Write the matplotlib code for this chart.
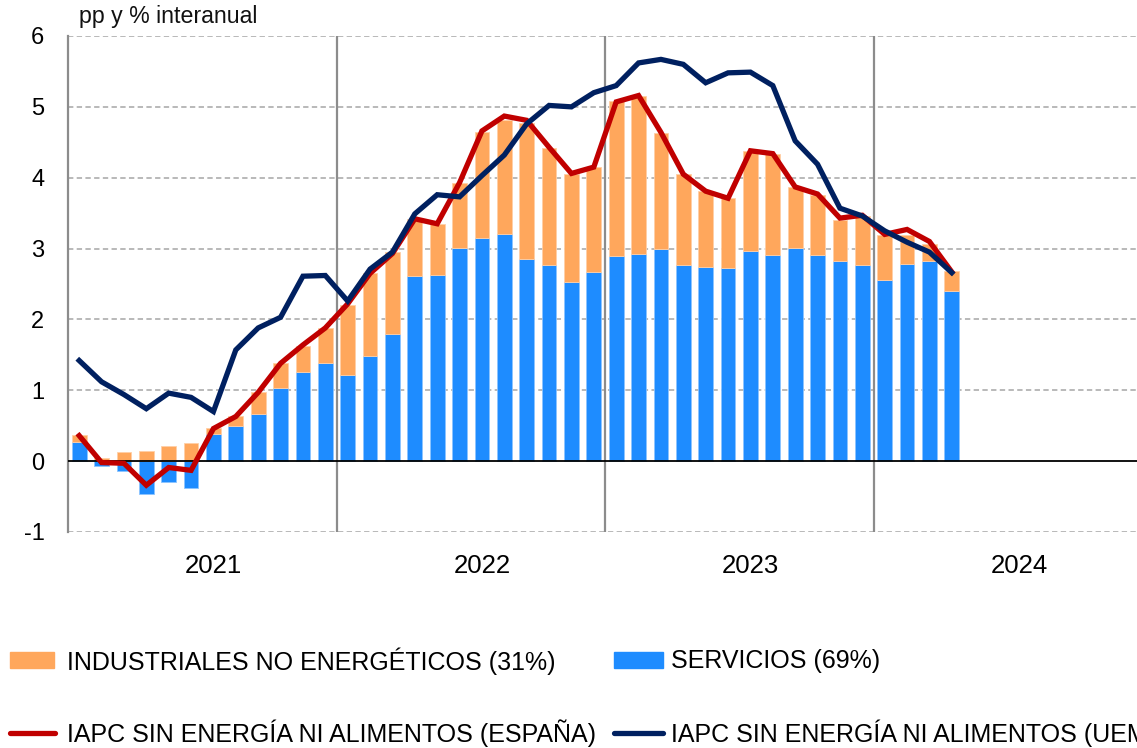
import matplotlib
matplotlib.use('Agg')
import matplotlib.pyplot as plt
from matplotlib.patches import Rectangle
from matplotlib.lines import Line2D
import numpy as np

plt.rcParams['font.family'] = ['Liberation Sans', 'DejaVu Sans']

# ---------------- data ----------------
years = ['2021', '2022', '2023', '2024']
months_per_year = 12
y_ticks = [-1, 0, 1, 2, 3, 4, 5, 6]
y_label = 'pp y % interanual'

# contribution of services (pp), Jan 2021 - Apr 2024
services = [0.27, -0.07, -0.14, -0.46, -0.30, -0.38, 0.39, 0.50, 0.67, 1.03, 1.26, 1.39,
            1.22, 1.49, 1.79, 2.61, 2.63, 3.01, 3.15, 3.20, 2.85, 2.77, 2.53, 2.67,
            2.89, 2.93, 3.00, 2.77, 2.74, 2.72, 2.97, 2.91, 3.01, 2.91, 2.82, 2.77,
            2.56, 2.78, 2.83, 2.40]
# contribution of non-energy industrial goods (pp)
industrial = [0.10, 0.05, 0.13, 0.14, 0.21, 0.25, 0.08, 0.14, 0.31, 0.35, 0.37, 0.49,
              0.99, 1.17, 1.16, 0.81, 0.72, 0.91, 1.50, 1.61, 1.92, 1.65, 1.52, 1.48,
              2.19, 2.23, 1.63, 1.28, 1.07, 0.99, 1.41, 1.43, 0.86, 0.85, 0.58, 0.69,
              0.63, 0.41, 0.24, 0.28]
# HICP excl. energy and food, Spain (%)
spain = [0.36, -0.02, -0.03, -0.34, -0.09, -0.13, 0.46, 0.63, 0.97, 1.38, 1.64, 1.88,
         2.22, 2.65, 2.93, 3.42, 3.35, 3.93, 4.66, 4.87, 4.81, 4.43, 4.06, 4.15,
         5.07, 5.16, 4.64, 4.05, 3.81, 3.71, 4.38, 4.34, 3.87, 3.77, 3.43, 3.47,
         3.20, 3.27, 3.10, 2.67]
# HICP excl. energy and food, euro area (%)
emu = [1.42, 1.12, 0.94, 0.74, 0.96, 0.90, 0.70, 1.57, 1.88, 2.03, 2.61, 2.62,
       2.26, 2.71, 2.95, 3.49, 3.76, 3.73, 4.03, 4.32, 4.76, 5.02, 5.00, 5.20,
       5.30, 5.62, 5.67, 5.60, 5.34, 5.48, 5.49, 5.30, 4.52, 4.19, 3.57, 3.46,
       3.25, 3.09, 2.95, 2.66]

legend_labels = ['INDUSTRIALES NO ENERGÉTICOS (31%)', 'SERVICIOS (69%)',
                 'IAPC SIN ENERGÍA NI ALIMENTOS (ESPAÑA)',
                 'IAPC SIN ENERGÍA NI ALIMENTOS (UEM)']

# ---------------- style ----------------
C_IND = '#FFA75C'
C_SER = '#1E8CFF'
C_ESP = '#C00000'
C_UEM = '#002060'
GRID = '#A6A6A6'
DIV = '#8C8C8C'

W, H = 1137, 748
fig = plt.figure(figsize=(W / 100, H / 100), dpi=100)

def fx(px):
    return px / W

def fy(py):
    return 1 - py / H

ax = fig.add_axes([fx(68), fy(532), 1074 / W, 496 / H])

n_total = len(years) * months_per_year
x = np.arange(len(services))
serv = np.array(services)
ind = np.array(industrial)
ind_bottom = np.where(serv > 0, serv, 0)

bw = 0.66
ax.bar(x, serv, width=bw, color=C_SER, edgecolor='#8CC4FF', linewidth=0.6, zorder=2)
ax.bar(x, ind, width=bw, bottom=ind_bottom, color=C_IND, edgecolor='#FFCFA6',
       linewidth=0.6, zorder=2)

ax.plot(x, spain, color=C_ESP, lw=3.8, solid_joinstyle='miter', zorder=4)
ax.plot(x, emu, color=C_UEM, lw=3.8, solid_joinstyle='miter', zorder=5)

ax.set_xlim(-0.5, n_total - 0.5)
ax.set_ylim(y_ticks[0], y_ticks[-1])

# horizontal dashed gridlines
for v in y_ticks:
    if v != 0:
        ax.axhline(v, color=GRID, lw=1.1, ls=(0, (3.5, 2.2)), zorder=1)
ax.axhline(0, color='black', lw=1.3, zorder=3)

# year dividers
for k in range(1, len(years)):
    ax.axvline(k * months_per_year - 0.5, color=DIV, lw=1.6, zorder=1)

for s in ['top', 'right', 'bottom']:
    ax.spines[s].set_visible(False)
ax.spines['left'].set_color(DIV)
ax.spines['left'].set_linewidth(1.6)

ax.set_yticks(y_ticks)
ax.set_yticklabels([str(v) for v in y_ticks])
ax.set_xticks([k * months_per_year + 6 for k in range(len(years))])
ax.set_xticklabels(years)
ax.tick_params(axis='y', length=0, pad=17, labelsize=17, labelcolor='black')
ax.tick_params(axis='x', length=0, pad=16, labelsize=18.5, labelcolor='black')

fig.text(fx(79), fy(17), y_label, fontsize=16.7, va='center', ha='left', color='#111111')

# ---------------- legend ----------------
leg_fs = 18
fig.patches.append(Rectangle((fx(10), fy(668)), fx(44), 16 / H, color=C_IND,
                             transform=fig.transFigure, figure=fig))
fig.text(fx(67), fy(661), legend_labels[0], fontsize=leg_fs, va='center', ha='left')
fig.patches.append(Rectangle((fx(614), fy(668)), fx(49), 16 / H, color=C_SER,
                             transform=fig.transFigure, figure=fig))
fig.text(fx(671), fy(661), legend_labels[1], fontsize=leg_fs, va='center', ha='left')

fig.lines.append(Line2D([fx(10), fx(55)], [fy(733), fy(733)], color=C_ESP, lw=3.8,
                        transform=fig.transFigure, figure=fig, solid_capstyle='round'))
fig.text(fx(67), fy(733), legend_labels[2], fontsize=leg_fs, va='center', ha='left')
fig.lines.append(Line2D([fx(614), fx(663)], [fy(733), fy(733)], color=C_UEM, lw=3.8,
                        transform=fig.transFigure, figure=fig, solid_capstyle='round'))
fig.text(fx(671), fy(733), legend_labels[3], fontsize=leg_fs, va='center', ha='left')

fig.savefig('out.png', dpi=100)
